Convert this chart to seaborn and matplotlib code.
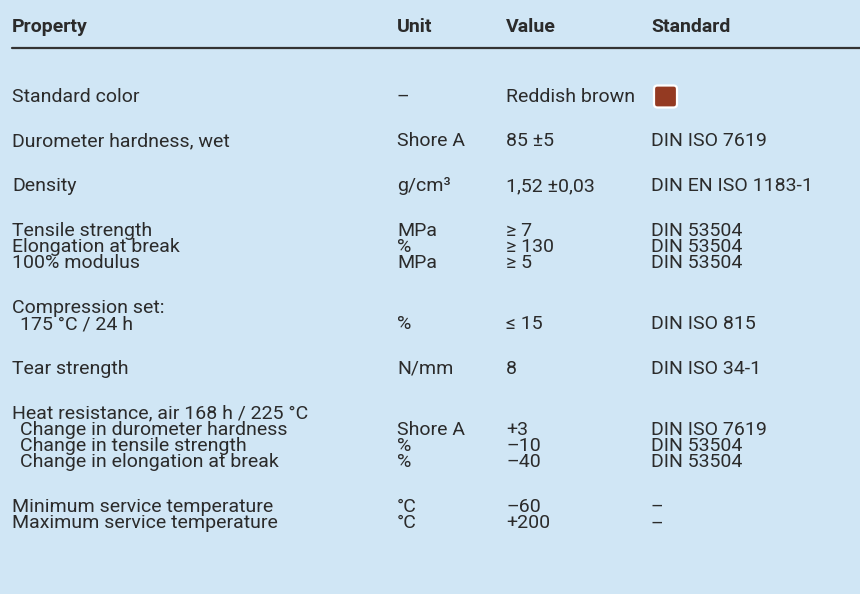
import matplotlib
matplotlib.use("Agg")
import matplotlib.pyplot as plt
import seaborn as sns
from matplotlib.patches import FancyBboxPatch

# Table content
headers = ["Property", "Unit", "Value", "Standard"]

# each group: list of rows (property, unit, value, standard, indented)
groups = [
    [("Standard color", "–", "Reddish brown", "", False)],
    [("Durometer hardness, wet", "Shore A", "85 ±5", "DIN ISO 7619", False)],
    [("Density", "g/cm³", "1,52 ±0,03", "DIN EN ISO 1183-1", False)],
    [("Tensile strength", "MPa", "≥ 7", "DIN 53504", False),
     ("Elongation at break", "%", "≥ 130", "DIN 53504", False),
     ("100% modulus", "MPa", "≥ 5", "DIN 53504", False)],
    [("Compression set:", "", "", "", False),
     ("175 °C / 24 h", "%", "≤ 15", "DIN ISO 815", True)],
    [("Tear strength", "N/mm", "8", "DIN ISO 34-1", False)],
    [("Heat resistance, air 168 h / 225 °C", "", "", "", False),
     ("Change in durometer hardness", "Shore A", "+3", "DIN ISO 7619", True),
     ("Change in tensile strength", "%", "–10", "DIN 53504", True),
     ("Change in elongation at break", "%", "–40", "DIN 53504", True)],
    [("Minimum service temperature", "°C", "–60", "–", False),
     ("Maximum service temperature", "°C", "+200", "–", False)],
]
swatch_color = "#943a22"

bg = "#d0e6f5"
ink = "#2b2b2b"

sns.set_theme(style="white")
plt.rcParams["font.family"] = ["Roboto", "DejaVu Sans"]

fig = plt.figure(figsize=(8.6, 5.94), dpi=100, facecolor=bg)
ax = fig.add_axes([0, 0, 1, 1])
ax.set_facecolor(bg)
ax.set_xlim(0, 860)
ax.set_ylim(594, 0)
ax.axis("off")

col_x = [12, 397, 506, 651]
indent = 8
fs = 14

# header
for x, h in zip(col_x, headers):
    ax.text(x, 27, h, fontsize=fs, fontweight="bold", color=ink, va="center", ha="left")
sns.lineplot(x=[12, 860], y=[48, 48], ax=ax, color="#333333", linewidth=1.6)

y = 97
line_h = 16.4
group_gap = 44.5
for g in groups:
    for i, (prop, unit, val, std, ind) in enumerate(g):
        yy = y + i * line_h
        for x, s in zip(col_x, (prop, unit, val, std)):
            if x == col_x[0] and ind:
                x += indent
            ax.text(x, yy, s, fontsize=fs, color=ink, va="center")
        if prop == "Standard color":
            ax.add_patch(FancyBboxPatch((654, yy - 11.5), 23, 22,
                                        boxstyle="round,pad=0,rounding_size=3.5",
                                        facecolor=swatch_color, edgecolor="white", linewidth=1.6))
    y += (len(g) - 1) * line_h + group_gap

fig.savefig("out.png", dpi=100, facecolor=bg)
